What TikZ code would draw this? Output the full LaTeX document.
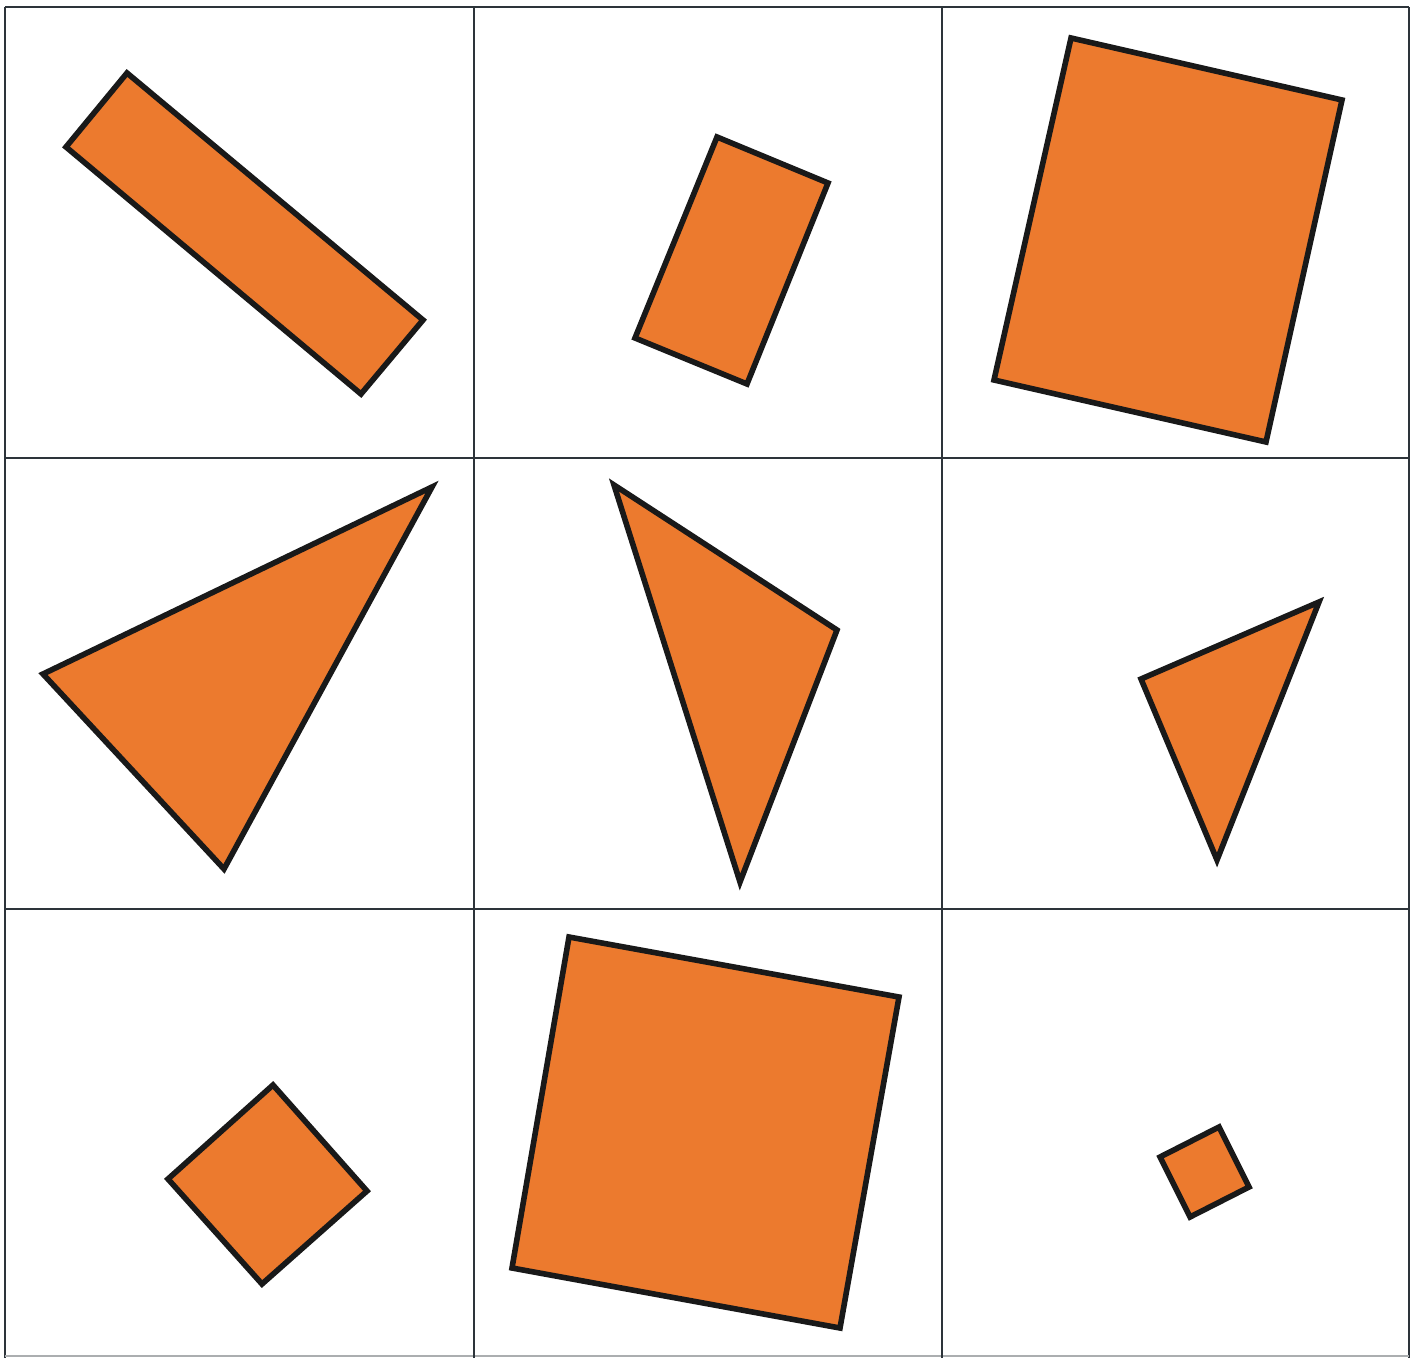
\documentclass[tikz,border=0pt]{standalone}
\usepackage{xcolor}
\definecolor{shapeorange}{RGB}{236,122,46}
\definecolor{gridgray}{RGB}{45,52,58}
\usetikzlibrary{calc}

\begin{document}
\begin{tikzpicture}[x=0.5pt,y=-0.5pt,
    gridline/.style={gridgray,line width=0.8pt},
    piece/.style={fill=shapeorange,draw=black!90,line width=2.8pt,line join=miter}]
  \useasboundingbox (0,0) rectangle (1418,1358);

  %% Grid of nine cells
  \draw[gridline] (5,7) -- (1409,7);
  \draw[gridline] (5,7) -- (5,1358);
  \draw[gridline] (1409,7) -- (1409,1358);
  \draw[gridline,gridgray!40] (5,1356) -- (1409,1356);
  \draw[gridline] (474,7) -- (474,1358);
  \draw[gridline] (942,7) -- (942,1358);
  \draw[gridline] (5,458) -- (1409,458);
  \draw[gridline] (5,909) -- (1409,909);

  %% Top row: rectangles
  \draw[piece] (127,73) -- (423,320) -- (361,394) -- (66,147) -- cycle;
  \draw[piece] (717,137) -- (828,183) -- (747,384) -- (635,338) -- cycle;
  \draw[piece] (1071,38) -- (1342,100) -- (1266,442) -- (994,380) -- cycle;

  %% Middle row: triangles
  \draw[piece] (432,487) -- (43,674) -- (224,869) -- cycle;
  \draw[piece] (614,485) -- (837,630) -- (740,882) -- cycle;
  \draw[piece] (1319,602) -- (1141,679) -- (1217,860) -- cycle;

  %% Bottom row: squares
  \draw[piece] (273,1085) -- (367,1191) -- (262,1284) -- (168,1179) -- cycle;
  \draw[piece] (569,937) -- (899,997) -- (840,1328) -- (512,1268) -- cycle;
  \draw[piece] (1219,1127) -- (1249,1187) -- (1190,1217) -- (1160,1157) -- cycle;
\end{tikzpicture}
\end{document}
